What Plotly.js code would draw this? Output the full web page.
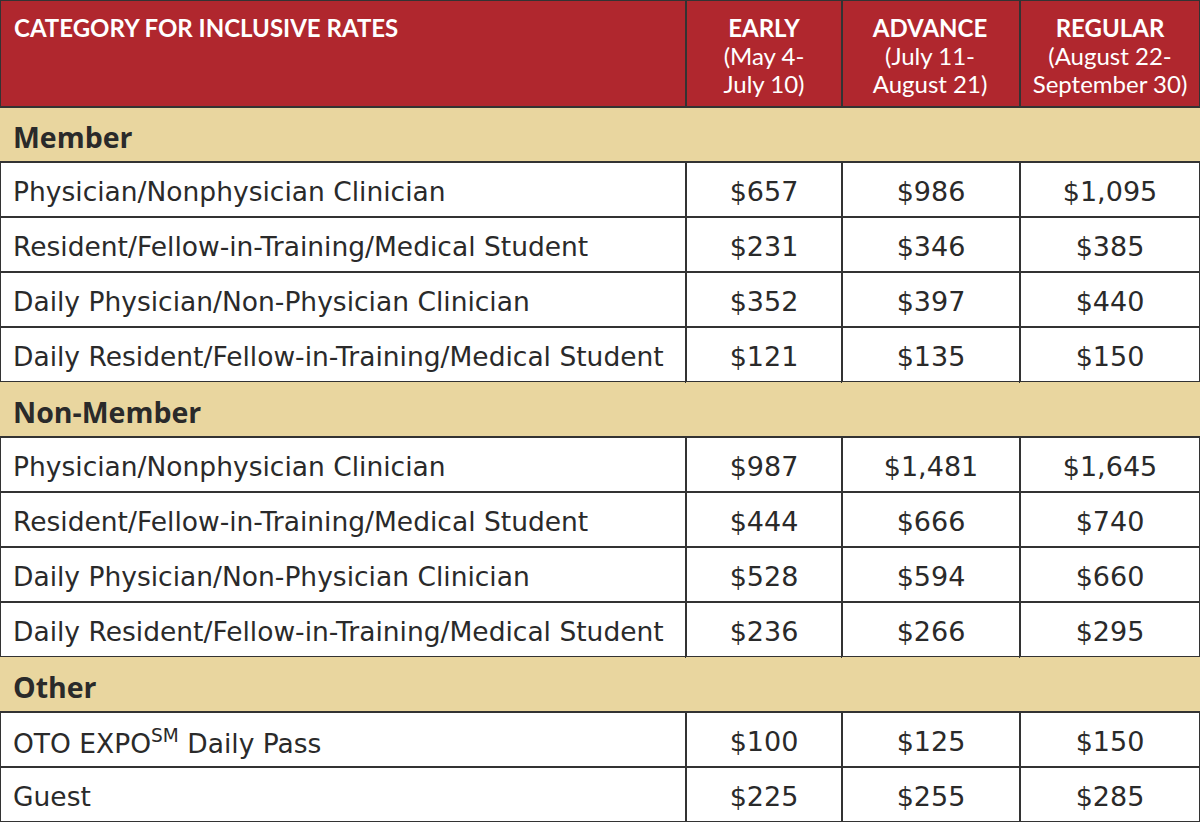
<!DOCTYPE html>
<html>
<head>
<meta charset="utf-8">
<script src="https://cdn.plot.ly/plotly-3.0.1.min.js"></script>
<style>
  html, body { margin: 0; padding: 0; background: #fff; }
  #plot { width: 1200px; height: 822px; }
</style>
</head>
<body>
<div id="plot"></div>
<script>
var headers = ['CATEGORY FOR INCLUSIVE RATES', 'EARLY', 'ADVANCE', 'REGULAR'];
var headerDates = ['', '(May 4-<br>July 10)', '(July 11-<br>August 21)', '(August 22-<br>September 30)'];

var sections = ['Member', 'Non-Member', 'Other'];

var member_categories = ['Physician/Nonphysician Clinician', 'Resident/Fellow-in-Training/Medical Student',
  'Daily Physician/Non-Physician Clinician', 'Daily Resident/Fellow-in-Training/Medical Student'];
var member_early = ['$657', '$231', '$352', '$121'];
var member_advance = ['$986', '$346', '$397', '$135'];
var member_regular = ['$1,095', '$385', '$440', '$150'];

var nonmember_categories = ['Physician/Nonphysician Clinician', 'Resident/Fellow-in-Training/Medical Student',
  'Daily Physician/Non-Physician Clinician', 'Daily Resident/Fellow-in-Training/Medical Student'];
var nonmember_early = ['$987', '$444', '$528', '$236'];
var nonmember_advance = ['$1,481', '$666', '$594', '$266'];
var nonmember_regular = ['$1,645', '$740', '$660', '$295'];

var other_categories = ['OTO EXPO<sup>SM</sup> Daily Pass', 'Guest'];
var other_early = ['$100', '$225'];
var other_advance = ['$125', '$255'];
var other_regular = ['$150', '$285'];

var red = '#b0272e';
var tan = '#e9d69f';
var border = '#333333';

var groups = [
  [member_categories, member_early, member_advance, member_regular],
  [nonmember_categories, nonmember_early, nonmember_advance, nonmember_regular],
  [other_categories, other_early, other_advance, other_regular]
];

// build the columns, one row per category plus a tan row per section
var col0 = [], col1 = [], col2 = [], col3 = [];
var fills = [], lineW = [], fam0 = [], size0 = [];
for (var g = 0; g < groups.length; g++) {
  col0.push('<b>' + sections[g] + '</b>'); col1.push(''); col2.push(''); col3.push('');
  fills.push(tan); lineW.push(0);
  fam0.push('Open Sans, sans-serif'); size0.push(28.5);
  for (var i = 0; i < groups[g][0].length; i++) {
    col0.push(groups[g][0][i]);
    col1.push(groups[g][1][i]);
    col2.push(groups[g][2][i]);
    col3.push(groups[g][3][i]);
    fills.push('white'); lineW.push(2);
    fam0.push('DejaVu Sans, sans-serif'); size0.push(26.5);
  }
}

var headerText = headers.map(function (h, k) {
  return '<b>' + h + '</b>' + (headerDates[k] ? '<br>' + headerDates[k] : '');
});

var trace1 = {
  type: 'table',
  columnwidth: [686, 156, 178, 180],
  header: {
    values: headerText,
    prefix: ['\u2009', '', '', ''],
    align: ['left', 'center', 'center', 'center'],
    height: 107,
    fill: { color: red },
    line: { color: border, width: 2 },
    font: { family: 'Lato, sans-serif', size: 24, color: 'white' }
  },
  cells: {
    values: [col0, col1, col2, col3],
    align: ['left', 'center', 'center', 'center'],
    height: 55,
    fill: { color: [fills, fills, fills, fills] },
    line: { color: border, width: [lineW, lineW, lineW, lineW] },
    font: {
      family: [fam0, 'DejaVu Sans, sans-serif', 'DejaVu Sans, sans-serif', 'DejaVu Sans, sans-serif'],
      size: [size0, 27, 27, 27],
      color: '#2a2a2a'
    }
  },
  domain: { x: [0, 1], y: [0, 1] }
};

var layout = {
  width: 1200,
  height: 822,
  margin: { l: 0, r: 0, t: 0, b: 0 },
  paper_bgcolor: 'white'
};

// plotly tables put text at the top of the cell; centre the body rows,
// nudge the first column in a bit and centre each header line on its own
function tidyTable() {
  var texts = document.querySelectorAll('#plot .cell-text');
  texts.forEach(function (t) {
    var cell = t.closest('.column-cell');
    var rect = cell && cell.querySelector('.cell-rect');
    if (!rect) return;
    var rb = rect.getBoundingClientRect();
    var old = t.getAttribute('transform') || '';
    var lines = t.querySelectorAll('tspan.line');
    if (rb.height > 80) {
      if (lines.length > 1) {
        // line k sits k line-heights below the first
        lines.forEach(function (l, k) { l.setAttribute('dy', (k * 28) + 'px'); });
        var bb = t.getBBox();
        t.setAttribute('text-anchor', 'middle');
        lines.forEach(function (l) { l.setAttribute('x', bb.x + bb.width / 2); });
      }
      t.setAttribute('transform', old + ' translate(0,5)');
      return;
    }
    var tb = t.getBoundingClientRect();
    if (!tb.height) return;
    var dx = rb.left < 10 ? 5 : 0;
    var dy = (rb.top + rb.height / 2 + 2) - (tb.top + tb.height / 2);
    t.setAttribute('transform', old + ' translate(' + dx + ',' + dy.toFixed(1) + ')');
  });
}

Plotly.newPlot('plot', [trace1], layout, { displayModeBar: false }).then(tidyTable);
</script>
</body>
</html>
